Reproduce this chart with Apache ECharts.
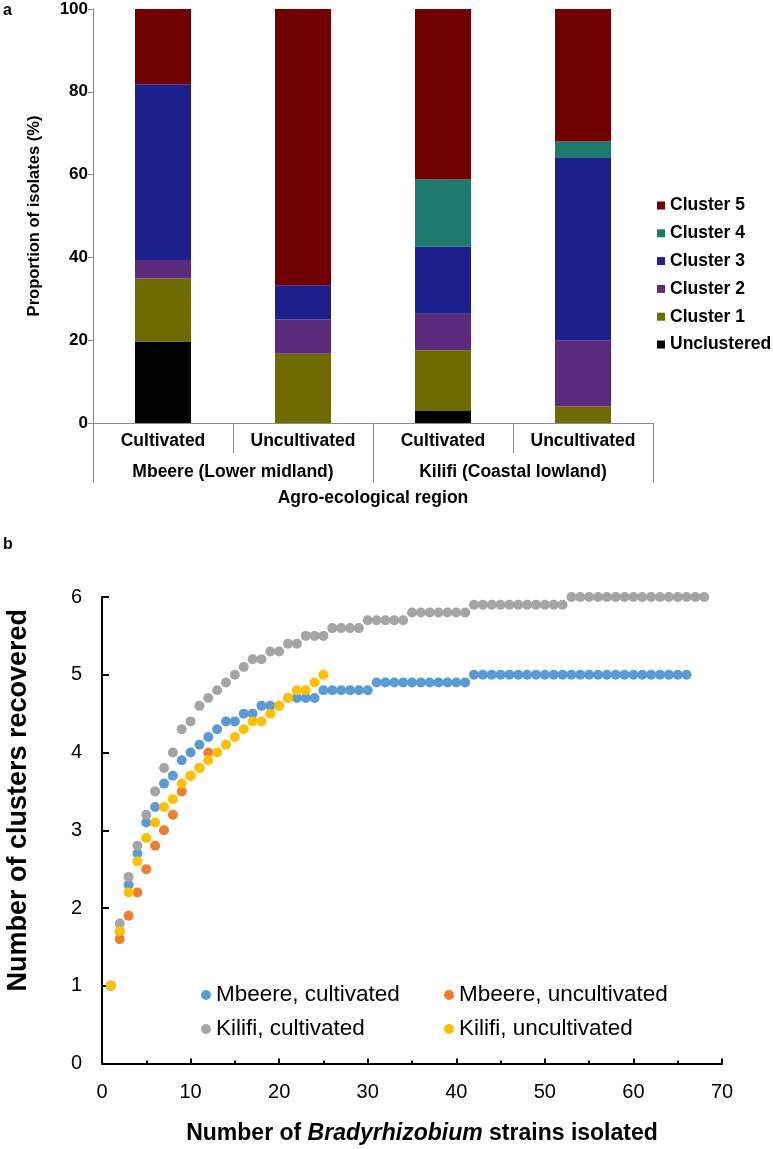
<!DOCTYPE html>
<html>
<head>
<meta charset="utf-8">
<script src="https://cdn.jsdelivr.net/npm/echarts@6/dist/echarts.min.js"></script>
<style>
html,body{margin:0;padding:0;background:#fff;}
#chart{width:773px;height:1149px;}
</style>
</head>
<body>
<div id="chart"></div>
<script>
// ---- Panel a: stacked bars ----
const barCategories = ['Cultivated', 'Uncultivated', 'Cultivated', 'Uncultivated'];
const regions = ['Mbeere (Lower midland)', 'Kilifi (Coastal lowland)'];
const unclustered = [19.7, 0, 2.9, 0];
const cluster1 = [15.2, 16.7, 14.7, 4.0];
const cluster2 = [4.5, 8.3, 8.8, 16.0];
const cluster3 = [42.4, 8.3, 16.2, 44.0];
const cluster4 = [0, 0, 16.2, 4.0];
const cluster5 = [18.2, 66.7, 41.2, 32.0];

// ---- Panel b: accumulation curves (value at n = 1, 2, 3, ...) ----
const mbeereCultivated = [1.0, 1.7, 2.3, 2.7, 3.1, 3.3, 3.6, 3.7, 3.9, 4.0, 4.1, 4.2, 4.3, 4.4, 4.4, 4.5, 4.5, 4.6, 4.6, 4.6,
  4.7, 4.7, 4.7, 4.7, 4.8, 4.8, 4.8, 4.8, 4.8, 4.8, 4.9, 4.9, 4.9, 4.9, 4.9, 4.9, 4.9, 4.9, 4.9, 4.9, 4.9,
  5.0, 5.0, 5.0, 5.0, 5.0, 5.0, 5.0, 5.0, 5.0, 5.0, 5.0, 5.0, 5.0, 5.0, 5.0, 5.0, 5.0, 5.0, 5.0, 5.0, 5.0, 5.0, 5.0, 5.0, 5.0];
const mbeereUncultivated = [1.0, 1.6, 1.9, 2.2, 2.5, 2.8, 3.0, 3.2, 3.5, 3.7, 3.8, 4.0];
const kilifiCultivated = [1.0, 1.8, 2.4, 2.8, 3.2, 3.5, 3.8, 4.0, 4.3, 4.4, 4.6, 4.7, 4.8, 4.9, 5.0, 5.1, 5.2, 5.2, 5.3, 5.3, 5.4, 5.4,
  5.5, 5.5, 5.5, 5.6, 5.6, 5.6, 5.6, 5.7, 5.7, 5.7, 5.7, 5.7, 5.8, 5.8, 5.8, 5.8, 5.8, 5.8, 5.8,
  5.9, 5.9, 5.9, 5.9, 5.9, 5.9, 5.9, 5.9, 5.9, 5.9, 5.9,
  6.0, 6.0, 6.0, 6.0, 6.0, 6.0, 6.0, 6.0, 6.0, 6.0, 6.0, 6.0, 6.0, 6.0, 6.0, 6.0];
const kilifiUncultivated = [1.0, 1.7, 2.2, 2.6, 2.9, 3.1, 3.3, 3.4, 3.6, 3.7, 3.8, 3.9, 4.0, 4.1, 4.2, 4.3, 4.4, 4.4, 4.5, 4.6, 4.7, 4.8, 4.8, 4.9, 5.0];

const FONT = "'Liberation Sans', Arial, sans-serif";
const greyAxis = '#8a8a8a';

function toPoints(arr) { return arr.map((v, i) => [i + 1, v]); }

const barColors = {
  'Unclustered': '#000000',
  'Cluster 1': '#6E6B00',
  'Cluster 2': '#5B2A7A',
  'Cluster 3': '#1E1E8C',
  'Cluster 4': '#1F7A6E',
  'Cluster 5': '#700000'
};
const barSeriesData = [
  ['Unclustered', unclustered], ['Cluster 1', cluster1], ['Cluster 2', cluster2],
  ['Cluster 3', cluster3], ['Cluster 4', cluster4], ['Cluster 5', cluster5]
];

const barSeries = barSeriesData.map(([name, data]) => ({
  name: name, type: 'bar', stack: 'a', xAxisIndex: 0, yAxisIndex: 0,
  data: data, barWidth: '40%',
  itemStyle: { color: barColors[name] },
  emphasis: { disabled: true }
}));

const scatterDefs = [
  ['Mbeere, cultivated', mbeereCultivated, '#5B9BD5'],
  ['Mbeere, uncultivated', mbeereUncultivated, '#ED7D31'],
  ['Kilifi, cultivated', kilifiCultivated, '#A5A5A5'],
  ['Kilifi, uncultivated', kilifiUncultivated, '#FFC000']
];
const scatterSeries = scatterDefs.map(([name, data, color]) => ({
  name: name, type: 'scatter', xAxisIndex: 2, yAxisIndex: 1,
  data: toPoints(data), symbol: 'circle', symbolSize: 10,
  itemStyle: { color: color, opacity: 1 },
  emphasis: { disabled: true }
}));

const chart = echarts.init(document.getElementById('chart'), null, { renderer: 'canvas' });
chart.setOption({
  animation: false,
  backgroundColor: '#ffffff',
  textStyle: { fontFamily: FONT },
  graphic: [
    { type: 'text', left: 3, top: 3, style: { text: 'a', font: 'bold 16px ' + FONT, fill: '#000' } },
    { type: 'text', left: 3, top: 537, style: { text: 'b', font: 'bold 16px ' + FONT, fill: '#000' } }
  ],
  grid: [
    { left: 93, top: 9, width: 560, height: 414, containLabel: false, outerBoundsMode: 'none' },
    { left: 102, top: 597, width: 620, height: 466.5, containLabel: false, outerBoundsMode: 'none' }
  ],
  legend: [
    {
      orient: 'vertical', left: 652, top: 190, icon: 'rect', itemWidth: 8, itemHeight: 8, itemGap: 6.8,
      data: ['Cluster 5', 'Cluster 4', 'Cluster 3', 'Cluster 2', 'Cluster 1', 'Unclustered'],
      textStyle: { fontFamily: FONT, fontWeight: 'bold', fontSize: 17.5, color: '#000', lineHeight: 21 },
      selectedMode: false
    },
    {
      orient: 'vertical', left: 196, top: 977, icon: 'circle', itemWidth: 10, itemHeight: 10, itemGap: 8,
      data: ['Mbeere, cultivated', 'Kilifi, cultivated'],
      textStyle: { fontFamily: FONT, fontSize: 22.5, color: '#000', lineHeight: 26 },
      selectedMode: false
    },
    {
      orient: 'vertical', left: 439, top: 977, icon: 'circle', itemWidth: 10, itemHeight: 10, itemGap: 8,
      data: ['Mbeere, uncultivated', 'Kilifi, uncultivated'],
      textStyle: { fontFamily: FONT, fontSize: 22.5, color: '#000', lineHeight: 26 },
      selectedMode: false
    }
  ],
  xAxis: [
    {
      type: 'category', gridIndex: 0, data: barCategories, position: 'bottom',
      axisLine: { show: true, lineStyle: { color: greyAxis, width: 1 } },
      axisTick: { show: true, alignWithLabel: false, interval: 0, length: 30, lineStyle: { color: greyAxis } },
      axisLabel: { fontFamily: FONT, fontWeight: 'bold', fontSize: 17.5, color: '#000', margin: 9, interval: 0 }
    },
    {
      type: 'category', gridIndex: 0, data: regions, position: 'bottom', offset: 30,
      axisLine: { show: false },
      axisTick: { show: true, alignWithLabel: false, interval: 0, length: 30, lineStyle: { color: greyAxis } },
      axisLabel: { fontFamily: FONT, fontWeight: 'bold', fontSize: 17.5, color: '#000', margin: 10, interval: 0 },
      name: 'Agro-ecological region', nameLocation: 'middle', nameGap: 36,
      nameTextStyle: { fontFamily: FONT, fontWeight: 'bold', fontSize: 17.5, color: '#000' }
    },
    {
      type: 'value', gridIndex: 1, min: 0, max: 70, interval: 10,
      axisLine: { show: true, lineStyle: { color: '#000', width: 2 } },
      axisTick: { show: true, inside: true, length: 5, lineStyle: { color: '#000', width: 2 } },
      minorTick: { show: true, splitNumber: 2, length: 3, lineStyle: { color: '#000', width: 2 } },
      splitLine: { show: false },
      axisLabel: { fontFamily: FONT, fontSize: 20, color: '#000', margin: 19 },
      name: '{b|Number of }{bi|Bradyrhizobium}{b| strains isolated}',
      nameLocation: 'middle', nameGap: 59,
      nameTextStyle: {
        padding: [0, 0, 0, 20],
        rich: {
          b: { fontFamily: FONT, fontWeight: 'bold', fontSize: 23, color: '#000' },
          bi: { fontFamily: FONT, fontWeight: 'bold', fontStyle: 'italic', fontSize: 23, color: '#000' }
        }
      }
    }
  ],
  yAxis: [
    {
      type: 'value', gridIndex: 0, min: 0, max: 100, interval: 20,
      axisLine: { show: true, lineStyle: { color: greyAxis, width: 1 } },
      axisTick: { show: true, inside: false, length: 5, lineStyle: { color: greyAxis } },
      splitLine: { show: false },
      axisLabel: { fontFamily: FONT, fontWeight: 'bold', fontSize: 17, color: '#000', margin: 5 },
      name: 'Proportion of isolates (%)', nameLocation: 'middle', nameGap: 50,
      nameTextStyle: { fontFamily: FONT, fontWeight: 'bold', fontSize: 16.5, color: '#000' }
    },
    {
      type: 'value', gridIndex: 1, min: 0, max: 6, interval: 1,
      axisLine: { show: true, lineStyle: { color: '#000', width: 2 } },
      axisTick: { show: true, inside: true, length: 7, lineStyle: { color: '#000', width: 2 } },
      splitLine: { show: false },
      axisLabel: { fontFamily: FONT, fontSize: 20, color: '#000', margin: 20 },
      name: 'Number of clusters recovered', nameLocation: 'middle', nameGap: 70,
      nameTextStyle: { fontFamily: FONT, fontWeight: 'bold', fontSize: 27, color: '#000', padding: [0, 0, 0, 60] }
    }
  ],
  series: barSeries.concat(scatterSeries)
});
</script>
</body>
</html>
